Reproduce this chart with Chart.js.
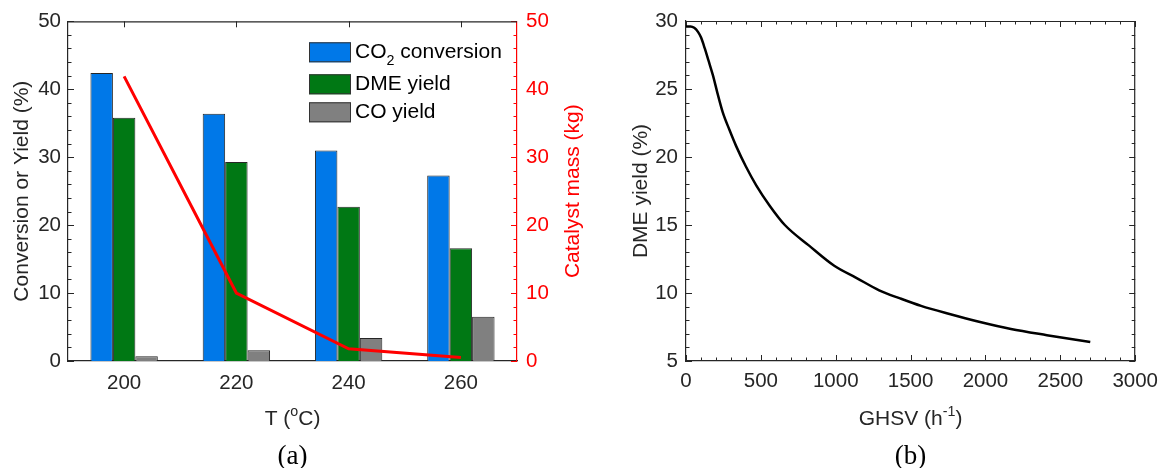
<!DOCTYPE html>
<html><head><meta charset="utf-8">
<script src="https://cdn.jsdelivr.net/npm/chart.js@4.4.0/dist/chart.umd.min.js"></script>
<style>
html,body{margin:0;padding:0;background:#fff;}
#wrap{position:relative;width:1166px;height:468px;background:#fff;}
#ca{position:absolute;left:0;top:0;}
#cb{position:absolute;left:583px;top:0;}
</style></head><body>
<div id="wrap"><canvas id="ca" width="583" height="468"></canvas><canvas id="cb" width="583" height="468"></canvas></div>
<script>
// ---------- data (a) ----------
const temperatures = ['200', '220', '240', '260'];
const co2Conversion = [42.4, 36.4, 31.0, 27.3];
const dmeYield = [35.8, 29.3, 22.7, 16.6];
const coYield = [0.7, 1.6, 3.4, 6.5];
const catalystMass = [41.9, 10.0, 1.8, 0.5];
const seriesLabels = ['CO₂ conversion', 'DME yield', 'CO yield', 'Catalyst mass'];

// ---------- data (b) ----------
const ghsv = [0, 30, 55, 80, 100, 125, 150, 180, 210, 245, 290, 335, 400, 470, 560, 660, 820, 990, 1140, 1290, 1430, 1570, 1760, 1950, 2170, 2410, 2700];
const dmeYieldGhsv = [29.6, 29.6, 29.5, 29.2, 28.8, 28.0, 27.1, 26.0, 24.7, 23.3, 22.0, 20.8, 19.3, 17.9, 16.4, 15.0, 13.5, 12.0, 11.1, 10.2, 9.6, 9.05, 8.45, 7.9, 7.35, 6.9, 6.4];

const FONT = "'Liberation Sans', Arial, Helvetica, sans-serif";
const SERIF = "'Liberation Serif', 'Times New Roman', serif";
const AXIS = '#262626';
const RED = '#ff0000';
const FS = 20.5;

// rich text: handles subscript ₂ and superscripts ᵒ, ⁻¹
function parseRich(s) {
  const parts = [];
  let i = 0, buf = '';
  const flush = () => { if (buf) { parts.push({ t: buf }); buf = ''; } };
  while (i < s.length) {
    const c = s[i];
    if (c === '₂') { flush(); parts.push({ t: '2', sub: true }); }
    else if (c === 'ᵒ') { flush(); parts.push({ t: 'o', sup: true }); }
    else if (c === '⁻') { flush(); parts.push({ t: '-1', sup: true }); i++; }
    else buf += c;
    i++;
  }
  flush();
  return parts;
}
function richWidth(ctx, parts, size) {
  let w = 0;
  parts.forEach(p => {
    ctx.font = ((p.sub || p.sup) ? size * 0.68 : size) + 'px ' + FONT;
    w += ctx.measureText(p.t).width;
  });
  return w;
}
function drawRich(ctx, s, x, y, size, color, align) {
  const parts = parseRich(s);
  const w = richWidth(ctx, parts, size);
  let cx = align === 'center' ? x - w / 2 : (align === 'right' ? x - w : x);
  ctx.fillStyle = color;
  ctx.textBaseline = 'alphabetic';
  ctx.textAlign = 'left';
  parts.forEach(p => {
    const small = p.sub || p.sup;
    const fs = small ? size * 0.68 : size;
    ctx.font = fs + 'px ' + FONT;
    let yy = y;
    if (p.sub) yy = y + size * 0.33;
    if (p.sup) yy = y - size * 0.42;
    ctx.fillText(p.t, cx, yy);
    cx += ctx.measureText(p.t).width;
  });
}

function range(a, b, step) { const r = []; for (let v = a; v <= b + 1e-9; v += step) r.push(v); return r; }

function tickMarks(ctx, area, scale, values, edge, len, color) {
  ctx.save();
  ctx.strokeStyle = color;
  ctx.lineWidth = 1;
  ctx.beginPath();
  values.forEach(v => {
    const p = Math.round(scale.getPixelForValue(v)) + 0.5;
    if (edge === 'left') { ctx.moveTo(area.left, p); ctx.lineTo(area.left + len, p); }
    if (edge === 'right') { ctx.moveTo(area.right, p); ctx.lineTo(area.right - len, p); }
    if (edge === 'top') { ctx.moveTo(p, area.top); ctx.lineTo(p, area.top + len); }
    if (edge === 'bottom') { ctx.moveTo(p, area.bottom); ctx.lineTo(p, area.bottom - len); }
  });
  ctx.stroke();
  ctx.restore();
}
const MAJ = 6, MIN = 3.5;

// ---------- chart (a) ----------
const decoA = {
  id: 'decoA',
  beforeDatasetsDraw(chart) {
    const ctx = chart.ctx, a = chart.chartArea, s = chart.scales;
    const yMaj = range(0, 50, 10), yMin = range(0, 50, 2).filter(v => v % 10 !== 0);
    tickMarks(ctx, a, s.y, yMaj, 'left', MAJ, AXIS);
    tickMarks(ctx, a, s.y, yMin, 'left', MIN, AXIS);
    tickMarks(ctx, a, s.y1, yMaj, 'right', MAJ, RED);
    tickMarks(ctx, a, s.y1, yMin, 'right', MIN, RED);
    const idx = temperatures.map((t, i) => i);
    tickMarks(ctx, a, s.x, idx, 'top', MAJ, AXIS);
    ctx.save();
    ctx.strokeStyle = AXIS; ctx.lineWidth = 1.2;
    ctx.beginPath(); ctx.moveTo(a.left, a.top + 0.5); ctx.lineTo(a.right, a.top + 0.5); ctx.stroke();
    ctx.restore();
  },
  afterDraw(chart) {
    const ctx = chart.ctx, a = chart.chartArea;
    const cy = (a.top + a.bottom) / 2;
    ctx.save(); ctx.translate(21 + 7, cy); ctx.rotate(-Math.PI / 2);
    drawRich(ctx, 'Conversion or Yield (%)', 0, 0, 21, AXIS, 'center'); ctx.restore();
    ctx.save(); ctx.translate(572 + 7, cy); ctx.rotate(-Math.PI / 2);
    drawRich(ctx, 'Catalyst mass (kg)', 0, 0, 21, RED, 'center'); ctx.restore();
    drawRich(ctx, 'T (ᵒC)', (a.left + a.right) / 2, 425, 21, AXIS, 'center');
    ctx.font = '27px ' + SERIF; ctx.fillStyle = '#000'; ctx.textAlign = 'center'; ctx.textBaseline = 'alphabetic';
    ctx.fillText('(a)', (a.left + a.right) / 2, 464);
    const rows = [21, 53, 81];
    const bx = a.right - 208;
    for (let i = 0; i < 3; i++) {
      const ds = chart.data.datasets[i];
      const ty = a.top + rows[i];
      ctx.fillStyle = ds.backgroundColor;
      ctx.fillRect(bx, ty, 42, 20);
      ctx.strokeStyle = '#333'; ctx.lineWidth = 1;
      ctx.strokeRect(bx + 0.5, ty + 0.5, 41, 19);
      drawRich(ctx, ds.label, bx + 46, ty + 16, 21, '#000', 'left');
    }
  }
};

new Chart(document.getElementById('ca'), {
  type: 'bar',
  data: {
    labels: temperatures,
    datasets: [
      { label: seriesLabels[0], data: co2Conversion, backgroundColor: '#0078e8', borderColor: '#262626', borderWidth: 1, yAxisID: 'y', order: 2 },
      { label: seriesLabels[1], data: dmeYield, backgroundColor: '#007814', borderColor: '#262626', borderWidth: 1, yAxisID: 'y', order: 2 },
      { label: seriesLabels[2], data: coYield, backgroundColor: '#808080', borderColor: '#262626', borderWidth: 1, yAxisID: 'y', order: 2 },
      { type: 'line', label: seriesLabels[3], data: catalystMass, borderColor: RED, backgroundColor: RED, borderWidth: 3, pointRadius: 0, tension: 0, yAxisID: 'y1', order: 0 }
    ]
  },
  options: {
    responsive: false, animation: false, devicePixelRatio: 1,
    layout: { padding: { top: 21, left: 0, right: 0, bottom: 0 } },
    datasets: { bar: { categoryPercentage: 0.6, barPercentage: 1.0 } },
    plugins: { legend: { display: false }, tooltip: { enabled: false }, title: { display: false } },
    scales: {
      x: {
        type: 'category', offset: true,
        grid: { display: false, drawTicks: false },
        border: { display: true, color: AXIS, width: 1.2 },
        ticks: { color: AXIS, font: { family: FONT, size: FS }, padding: 10, maxRotation: 0 },
        afterFit(s) { s.height = 107; }
      },
      y: {
        position: 'left', min: 0, max: 50,
        grid: { display: false, drawTicks: false },
        border: { display: true, color: AXIS, width: 1.2 },
        ticks: { stepSize: 10, color: AXIS, font: { family: FONT, size: FS }, padding: 7, callback: v => String(v) },
        afterFit(s) { s.width = 68; }
      },
      y1: {
        position: 'right', min: 0, max: 50,
        grid: { display: false, drawTicks: false },
        border: { display: true, color: RED, width: 1.2 },
        ticks: { stepSize: 10, color: RED, font: { family: FONT, size: FS }, padding: 9, callback: v => String(v) },
        afterFit(s) { s.width = 66; }
      }
    }
  },
  plugins: [decoA]
});

// ---------- chart (b) ----------
const decoB = {
  id: 'decoB',
  beforeDatasetsDraw(chart) {
    const ctx = chart.ctx, a = chart.chartArea, s = chart.scales;
    const yMaj = range(5, 30, 5), yMin = range(5, 30, 1).filter(v => v % 5 !== 0);
    const xMaj = range(0, 3000, 500), xMin = range(0, 3000, 100).filter(v => v % 500 !== 0);
    ['left', 'right'].forEach(e => { tickMarks(ctx, a, s.y, yMaj, e, MAJ, AXIS); tickMarks(ctx, a, s.y, yMin, e, MIN, AXIS); });
    ['top', 'bottom'].forEach(e => { tickMarks(ctx, a, s.x, xMaj, e, MAJ, AXIS); tickMarks(ctx, a, s.x, xMin, e, MIN, AXIS); });
    ctx.save();
    ctx.strokeStyle = AXIS; ctx.lineWidth = 1.2;
    ctx.beginPath();
    ctx.moveTo(a.left, a.top + 0.5); ctx.lineTo(a.right, a.top + 0.5);
    ctx.moveTo(a.right - 0.5, a.top); ctx.lineTo(a.right - 0.5, a.bottom);
    ctx.stroke();
    ctx.restore();
  },
  afterDraw(chart) {
    const ctx = chart.ctx, a = chart.chartArea;
    const cy = (a.top + a.bottom) / 2;
    ctx.save(); ctx.translate(57 + 7, cy); ctx.rotate(-Math.PI / 2);
    drawRich(ctx, 'DME yield (%)', 0, 0, 21, AXIS, 'center'); ctx.restore();
    drawRich(ctx, 'GHSV (h⁻¹)', (a.left + a.right) / 2, 425, 21, AXIS, 'center');
    ctx.font = '27px ' + SERIF; ctx.fillStyle = '#000'; ctx.textAlign = 'center'; ctx.textBaseline = 'alphabetic';
    ctx.fillText('(b)', (a.left + a.right) / 2, 464);
  }
};

new Chart(document.getElementById('cb'), {
  type: 'line',
  data: {
    datasets: [{
      label: 'DME yield',
      data: ghsv.map((g, i) => ({ x: g, y: dmeYieldGhsv[i] })),
      borderColor: '#000', borderWidth: 2.5, pointRadius: 0, fill: false,
      cubicInterpolationMode: 'monotone'
    }]
  },
  options: {
    responsive: false, animation: false, devicePixelRatio: 1,
    layout: { padding: { top: 21, left: 0, right: 24, bottom: 0 } },
    plugins: { legend: { display: false }, tooltip: { enabled: false }, title: { display: false } },
    scales: {
      x: {
        type: 'linear', min: 0, max: 3000,
        grid: { display: false, drawTicks: false },
        border: { display: true, color: AXIS, width: 1.2 },
        ticks: { stepSize: 500, color: AXIS, font: { family: FONT, size: FS }, padding: 8, maxRotation: 0, callback: v => String(v) },
        afterFit(s) { s.height = 107; }
      },
      y: {
        type: 'linear', min: 5, max: 30,
        grid: { display: false, drawTicks: false },
        border: { display: true, color: AXIS, width: 1.2 },
        ticks: { stepSize: 5, color: AXIS, font: { family: FONT, size: FS }, padding: 8, callback: v => String(v) },
        afterFit(s) { s.width = 103; }
      }
    }
  },
  plugins: [decoB]
});
</script>
</body></html>
